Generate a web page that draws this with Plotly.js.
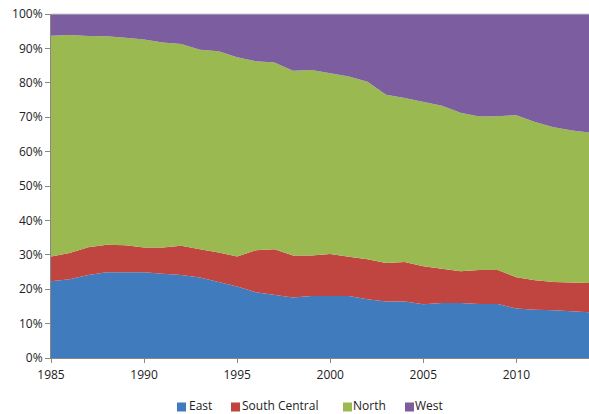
<!DOCTYPE html>
<html><head><meta charset="utf-8">
<script src="https://cdn.plot.ly/plotly-3.0.1.min.js"></script>
<style>html,body{margin:0;padding:0;background:#fff}#chart{width:589px;height:414px}</style>
</head><body><div id="chart"></div>
<script>
const years = [1985,1986,1987,1988,1989,1990,1991,1992,1993,1994,1995,1996,1997,1998,1999,2000,2001,2002,2003,2004,2005,2006,2007,2008,2009,2010,2011,2012,2013,2014];
const east = [22.3,22.9,24.1,24.9,24.9,24.9,24.5,24.1,23.4,22.0,20.8,19.1,18.4,17.6,18.0,18.1,18.0,17.1,16.4,16.4,15.6,16.0,16.0,15.7,15.7,14.4,14.0,13.9,13.6,13.3];
const southCentral = [7.2,7.6,8.1,8.0,7.9,7.2,7.6,8.5,8.2,8.7,8.7,12.2,13.2,12.2,11.8,12.1,11.4,11.6,11.2,11.5,11.1,10.0,9.2,9.9,9.9,9.1,8.6,8.2,8.4,8.5];
const north = [64.2,63.4,61.4,60.6,60.3,60.5,59.6,58.7,58.0,58.5,57.9,55.0,54.3,53.7,53.9,52.6,52.4,51.6,48.9,47.7,47.7,47.3,46.1,44.6,44.7,47.1,46.0,45.0,44.1,43.7];
const west = [6.3,6.1,6.4,6.5,6.9,7.4,8.3,8.7,10.4,10.8,12.6,13.7,14.1,16.5,16.3,17.2,18.2,19.7,23.5,24.4,25.6,26.7,28.7,29.8,29.7,29.4,31.4,32.9,33.9,34.5];
const seriesNames = ['East','South Central','North','West'];
const xTicks = [1985,1990,1995,2000,2005,2010];
const yTicks = [0,10,20,30,40,50,60,70,80,90,100];
const colors = ['#407CBD','#C0443F','#9AB951','#7C5EA0'];
const values = [east, southCentral, north, west];

const traces = values.map((v,i)=>({
  x: years, y: v, name: seriesNames[i], type:'scatter', mode:'lines',
  stackgroup:'one', groupnorm:'percent', showlegend:false,
  line:{width:0, color:colors[i]}, fillcolor:colors[i], hoverinfo:'skip'
}));

// compact legend (Excel style): small squares followed by labels
const PL = 51, PW = 538, PB = 358, PH = 344;
const px2x = p => (p - PL) / PW;
const px2y = p => (PB - p) / PH;
const legSq = [177, 231, 343, 405];
const legTx = [189, 242, 353, 415];
const shapes = [{type:'line', xref:'paper', yref:'paper', x0:0, x1:1, y0:1, y1:1, line:{color:'#c8c8c8', width:1}}];
const annotations = [];
seriesNames.forEach((n,i)=>{
  shapes.push({type:'rect', xref:'paper', yref:'paper', x0:px2x(legSq[i]), x1:px2x(legSq[i]+9), y0:px2y(402.5), y1:px2y(411.5), fillcolor:colors[i], line:{width:0}});
  annotations.push({xref:'paper', yref:'paper', x:px2x(legTx[i]), y:px2y(405.5), xanchor:'left', yanchor:'middle', showarrow:false, text:n,
    borderpad:0, borderwidth:0,
    font:{family:'"Open Sans", "Liberation Sans", sans-serif', size:12, color:'#222'}});
});

const font = {family:'"Open Sans", "Liberation Sans", sans-serif', size:12, color:'#222'};
const layout = {
  width:589, height:414,
  margin:{l:51, r:0, t:14, b:56},
  paper_bgcolor:'#fff', plot_bgcolor:'#fff',
  font: font,
  showlegend:false,
  xaxis:{range:[1985,2013.9], tickvals:xTicks, ticktext:xTicks.map(String),
    showgrid:false, zeroline:false, showline:true, linecolor:'#888', linewidth:1,
    ticks:'outside', ticklen:4, tickcolor:'#888', tickfont:font, ticklabelstandoff:2, fixedrange:true},
  yaxis:{range:[0,100], tickvals:yTicks, ticktext:yTicks.map(v=>v+'%'),
    showgrid:false, zeroline:false, showline:true, linecolor:'#888', linewidth:1,
    ticks:'outside', ticklen:5, tickcolor:'#888', tickfont:font, fixedrange:true},
  shapes: shapes,
  annotations: annotations
};
Plotly.newPlot('chart', traces, layout, {staticPlot:true, displayModeBar:false});
</script></body></html>
